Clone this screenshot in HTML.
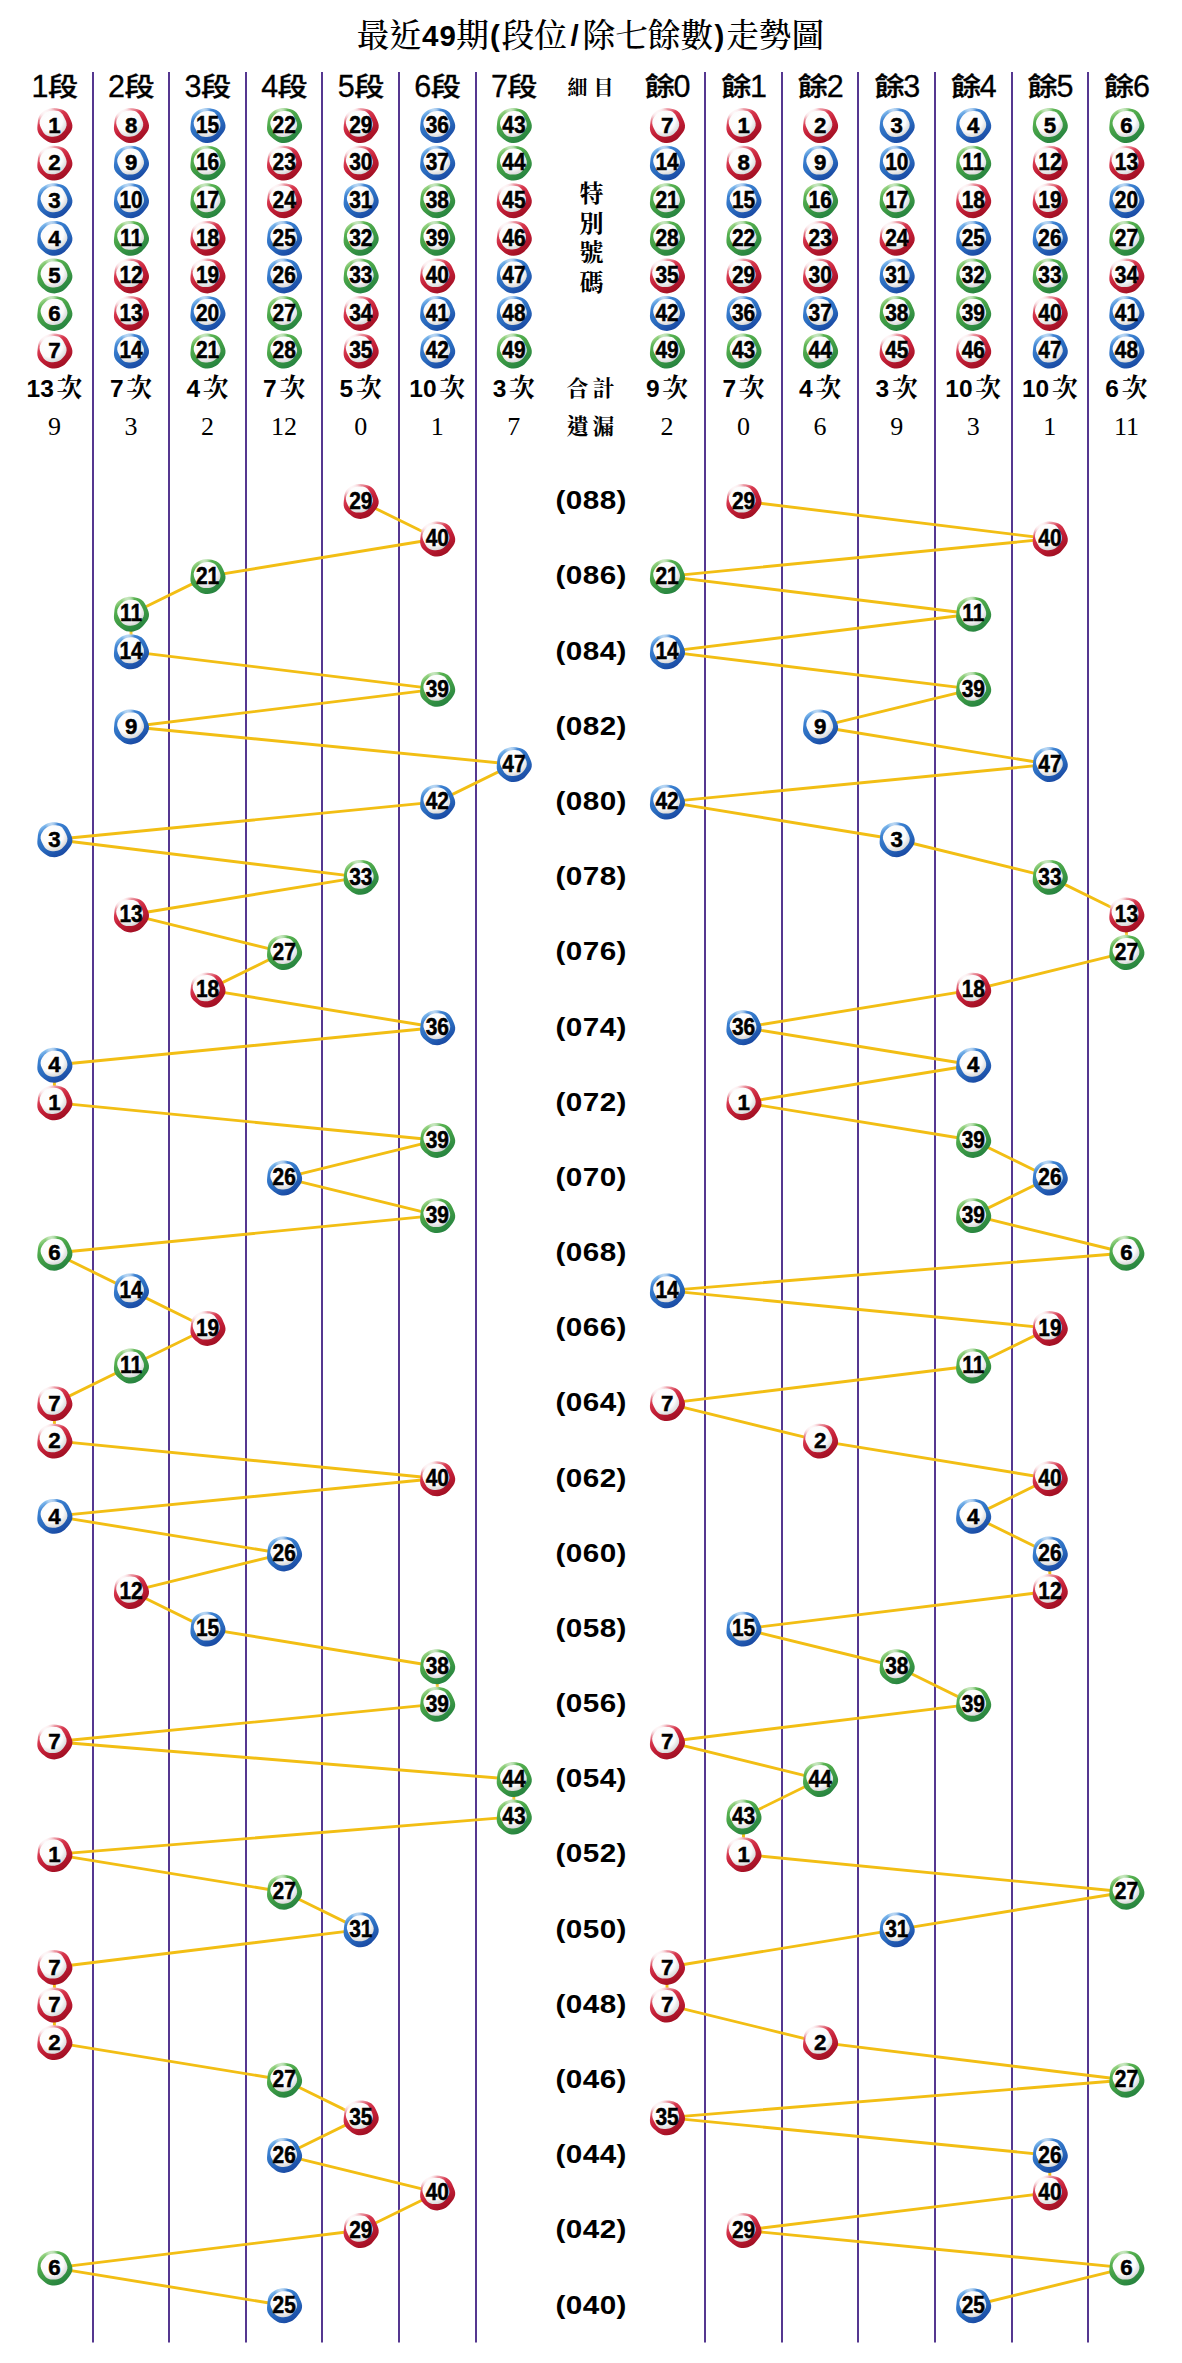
<!DOCTYPE html>
<html lang="zh-Hant"><head><meta charset="utf-8"><title>最近49期(段位/除七餘數)走勢圖</title>
<style>
html,body{margin:0;padding:0;background:#fff}
svg{display:block}
.sans{font-family:"Liberation Sans","Noto Sans CJK TC",sans-serif}
.serif{font-family:"Liberation Serif","Noto Serif CJK SC",serif;font-weight:500}
.kai{font-family:"Liberation Serif","Noto Serif CJK SC",serif;font-weight:700}
.bn{font-family:"Liberation Sans",sans-serif;font-weight:700;font-size:23px;text-anchor:middle;fill:#000;stroke:#000;stroke-width:0.5px}
.hd{font-family:"Liberation Sans","Noto Sans CJK TC",sans-serif;stroke:#000;stroke-width:0.3px;text-anchor:middle;fill:#000}
.per{font-family:"Liberation Sans",sans-serif;font-weight:700;font-size:26.5px;text-anchor:middle;fill:#000;letter-spacing:0.4px}
.cnt{font-family:"Liberation Sans",sans-serif;font-weight:700;font-size:24.5px;fill:#000}
.ci{font-family:"Liberation Serif","Noto Serif CJK SC",serif;font-weight:700;font-size:26px;fill:#000}
.miss{font-family:"Liberation Serif",serif;font-size:26px;text-anchor:middle;fill:#000}
.lab{font-family:"Liberation Serif","Noto Serif CJK SC",serif;font-weight:700;text-anchor:middle;fill:#000}
</style></head><body>
<svg width="1182" height="2363" viewBox="0 0 1182 2363">
<defs>
<linearGradient id="ringr" x1="0.18" y1="0.02" x2="0.72" y2="1"><stop offset="0.04" stop-color="#fbe3e6"/><stop offset="0.3" stop-color="#d83a50"/><stop offset="0.55" stop-color="#c41f37"/><stop offset="1" stop-color="#9c0d20"/></linearGradient>
<linearGradient id="ringb" x1="0.18" y1="0.02" x2="0.72" y2="1"><stop offset="0.04" stop-color="#8cc4f2"/><stop offset="0.22" stop-color="#3a7fd0"/><stop offset="0.55" stop-color="#2b6dc0"/><stop offset="1" stop-color="#1745a0"/></linearGradient>
<linearGradient id="ringg" x1="0.18" y1="0.02" x2="0.72" y2="1"><stop offset="0.04" stop-color="#a8dc90"/><stop offset="0.22" stop-color="#55b04f"/><stop offset="0.55" stop-color="#3f9c45"/><stop offset="1" stop-color="#23803f"/></linearGradient>
<radialGradient id="wh" cx="0.4" cy="0.35" r="0.75"><stop offset="0" stop-color="#fff"/><stop offset="0.6" stop-color="#fbfbfb"/><stop offset="1" stop-color="#c9c9c9"/></radialGradient>
<radialGradient id="hl" cx="0.5" cy="0.5" r="0.5"><stop offset="0" stop-color="#fff" stop-opacity="0.95"/><stop offset="0.45" stop-color="#fff" stop-opacity="0.7"/><stop offset="1" stop-color="#fff" stop-opacity="0"/></radialGradient>
<g id="ballr"><path d="M17.99,0.00 L17.92,2.36 L17.26,4.63 L16.16,6.69 L14.84,8.57 L13.45,10.32 L12.01,12.01 L10.44,13.60 L8.65,14.98 L6.66,16.07 L4.52,16.87 L2.29,17.41 L0.00,17.68 L-2.32,17.62 L-4.59,17.14 L-6.73,16.24 L-8.68,15.03 L-10.49,13.66 L-12.22,12.22 L-13.88,10.65 L-15.35,8.86 L-16.43,6.80 L-16.99,4.55 L-17.08,2.25 L-16.91,0.00 L-16.68,-2.20 L-16.45,-4.41 L-16.08,-6.66 L-15.38,-8.88 L-14.23,-10.92 L-12.66,-12.66 L-10.81,-14.09 L-8.80,-15.24 L-6.70,-16.17 L-4.51,-16.84 L-2.26,-17.19 L-0.00,-17.22 L2.24,-16.98 L4.44,-16.57 L6.63,-16.00 L8.77,-15.19 L10.76,-14.02 L12.46,-12.46 L13.81,-10.60 L14.88,-8.59 L15.82,-6.55 L16.72,-4.48 L17.52,-2.31Z" fill="url(#ringr)"/><circle cx="-8.5" cy="-11.5" r="10" fill="url(#hl)"/><path d="M12.16,-1.70 L12.15,0.07 L11.76,1.80 L11.04,3.41 L10.12,4.89 L9.07,6.26 L7.93,7.53 L6.67,8.69 L5.27,9.68 L3.73,10.44 L2.09,10.96 L0.41,11.25 L-1.30,11.39 L-3.02,11.39 L-4.76,11.22 L-6.47,10.79 L-8.08,10.04 L-9.48,8.96 L-10.63,7.63 L-11.56,6.17 L-12.36,4.68 L-13.11,3.19 L-13.82,1.65 L-14.41,0.03 L-14.76,-1.70 L-14.75,-3.47 L-14.36,-5.20 L-13.64,-6.81 L-12.72,-8.29 L-11.67,-9.66 L-10.53,-10.93 L-9.27,-12.09 L-7.87,-13.08 L-6.33,-13.84 L-4.69,-14.36 L-3.01,-14.65 L-1.30,-14.79 L0.42,-14.79 L2.16,-14.62 L3.87,-14.19 L5.48,-13.44 L6.88,-12.36 L8.03,-11.03 L8.96,-9.57 L9.76,-8.08 L10.51,-6.59 L11.22,-5.05 L11.81,-3.43Z" fill="url(#wh)"/></g>
<g id="ballb"><path d="M17.99,0.00 L17.92,2.36 L17.26,4.63 L16.16,6.69 L14.84,8.57 L13.45,10.32 L12.01,12.01 L10.44,13.60 L8.65,14.98 L6.66,16.07 L4.52,16.87 L2.29,17.41 L0.00,17.68 L-2.32,17.62 L-4.59,17.14 L-6.73,16.24 L-8.68,15.03 L-10.49,13.66 L-12.22,12.22 L-13.88,10.65 L-15.35,8.86 L-16.43,6.80 L-16.99,4.55 L-17.08,2.25 L-16.91,0.00 L-16.68,-2.20 L-16.45,-4.41 L-16.08,-6.66 L-15.38,-8.88 L-14.23,-10.92 L-12.66,-12.66 L-10.81,-14.09 L-8.80,-15.24 L-6.70,-16.17 L-4.51,-16.84 L-2.26,-17.19 L-0.00,-17.22 L2.24,-16.98 L4.44,-16.57 L6.63,-16.00 L8.77,-15.19 L10.76,-14.02 L12.46,-12.46 L13.81,-10.60 L14.88,-8.59 L15.82,-6.55 L16.72,-4.48 L17.52,-2.31Z" fill="url(#ringb)"/><circle cx="-3" cy="-14.5" r="6.5" fill="url(#hl)" opacity="0.6"/><path d="M12.96,-1.30 L12.95,0.46 L12.56,2.17 L11.85,3.77 L10.93,5.24 L9.89,6.60 L8.76,7.86 L7.51,9.01 L6.12,10.00 L4.59,10.75 L2.97,11.26 L1.29,11.55 L-0.40,11.69 L-2.11,11.69 L-3.83,11.52 L-5.54,11.10 L-7.13,10.35 L-8.52,9.28 L-9.66,7.96 L-10.58,6.51 L-11.37,5.03 L-12.11,3.55 L-12.82,2.03 L-13.41,0.41 L-13.76,-1.30 L-13.75,-3.06 L-13.36,-4.77 L-12.65,-6.37 L-11.73,-7.84 L-10.69,-9.20 L-9.56,-10.46 L-8.31,-11.61 L-6.92,-12.60 L-5.39,-13.35 L-3.77,-13.86 L-2.09,-14.15 L-0.40,-14.29 L1.31,-14.29 L3.03,-14.12 L4.74,-13.70 L6.33,-12.95 L7.72,-11.88 L8.86,-10.56 L9.78,-9.11 L10.57,-7.63 L11.31,-6.15 L12.02,-4.63 L12.61,-3.01Z" fill="url(#wh)"/></g>
<g id="ballg"><path d="M17.99,0.00 L17.92,2.36 L17.26,4.63 L16.16,6.69 L14.84,8.57 L13.45,10.32 L12.01,12.01 L10.44,13.60 L8.65,14.98 L6.66,16.07 L4.52,16.87 L2.29,17.41 L0.00,17.68 L-2.32,17.62 L-4.59,17.14 L-6.73,16.24 L-8.68,15.03 L-10.49,13.66 L-12.22,12.22 L-13.88,10.65 L-15.35,8.86 L-16.43,6.80 L-16.99,4.55 L-17.08,2.25 L-16.91,0.00 L-16.68,-2.20 L-16.45,-4.41 L-16.08,-6.66 L-15.38,-8.88 L-14.23,-10.92 L-12.66,-12.66 L-10.81,-14.09 L-8.80,-15.24 L-6.70,-16.17 L-4.51,-16.84 L-2.26,-17.19 L-0.00,-17.22 L2.24,-16.98 L4.44,-16.57 L6.63,-16.00 L8.77,-15.19 L10.76,-14.02 L12.46,-12.46 L13.81,-10.60 L14.88,-8.59 L15.82,-6.55 L16.72,-4.48 L17.52,-2.31Z" fill="url(#ringg)"/><circle cx="-3" cy="-14.5" r="6.5" fill="url(#hl)" opacity="0.6"/><path d="M12.96,-1.30 L12.95,0.46 L12.56,2.17 L11.85,3.77 L10.93,5.24 L9.89,6.60 L8.76,7.86 L7.51,9.01 L6.12,10.00 L4.59,10.75 L2.97,11.26 L1.29,11.55 L-0.40,11.69 L-2.11,11.69 L-3.83,11.52 L-5.54,11.10 L-7.13,10.35 L-8.52,9.28 L-9.66,7.96 L-10.58,6.51 L-11.37,5.03 L-12.11,3.55 L-12.82,2.03 L-13.41,0.41 L-13.76,-1.30 L-13.75,-3.06 L-13.36,-4.77 L-12.65,-6.37 L-11.73,-7.84 L-10.69,-9.20 L-9.56,-10.46 L-8.31,-11.61 L-6.92,-12.60 L-5.39,-13.35 L-3.77,-13.86 L-2.09,-14.15 L-0.40,-14.29 L1.31,-14.29 L3.03,-14.12 L4.74,-13.70 L6.33,-12.95 L7.72,-11.88 L8.86,-10.56 L9.78,-9.11 L10.57,-7.63 L11.31,-6.15 L12.02,-4.63 L12.61,-3.01Z" fill="url(#wh)"/></g>
</defs>
<rect width="1182" height="2363" fill="#fff"/>
<text fill="#000"><tspan x="356.5" y="47.2" class="serif" font-size="32.7">最近</tspan><tspan x="421.9" y="46" class="sans" font-weight="700" font-size="29.5" letter-spacing="1.3">49</tspan><tspan x="456.3" y="47.2" class="serif" font-size="32.7">期</tspan><tspan x="490.1" y="46" class="sans" font-weight="700" font-size="29.5" letter-spacing="1.3">(</tspan><tspan x="501.5" y="47.2" class="serif" font-size="32.7">段位</tspan><tspan x="570.4" y="46" class="sans" font-weight="700" font-size="29.5" letter-spacing="1.3">/</tspan><tspan x="582.5" y="47.2" class="serif" font-size="32.7">除七餘數</tspan><tspan x="714.6" y="46" class="sans" font-weight="700" font-size="29.5" letter-spacing="1.3">)</tspan><tspan x="726.2" y="47.2" class="serif" font-size="32.7">走勢圖</tspan></text>
<rect x="92" y="72" width="2" height="2270.5" fill="#553790"/>
<rect x="168" y="72" width="2" height="2270.5" fill="#553790"/>
<rect x="245" y="72" width="2" height="2270.5" fill="#553790"/>
<rect x="321" y="72" width="2" height="2270.5" fill="#553790"/>
<rect x="398" y="72" width="2" height="2270.5" fill="#553790"/>
<rect x="475" y="72" width="2" height="2270.5" fill="#553790"/>
<rect x="704" y="72" width="2" height="2270.5" fill="#553790"/>
<rect x="781" y="72" width="2" height="2270.5" fill="#553790"/>
<rect x="857" y="72" width="2" height="2270.5" fill="#553790"/>
<rect x="934" y="72" width="2" height="2270.5" fill="#553790"/>
<rect x="1011" y="72" width="2" height="2270.5" fill="#553790"/>
<rect x="1087" y="72" width="2" height="2270.5" fill="#553790"/>
<text class="hd" x="40.0" y="97.4" font-size="30.5">1</text><text class="hd" transform="translate(63.0,95.9) scale(1.17,1)" font-size="25.8" font-weight="500">段</text>
<text class="hd" x="116.6" y="97.4" font-size="30.5">2</text><text class="hd" transform="translate(139.6,95.9) scale(1.17,1)" font-size="25.8" font-weight="500">段</text>
<text class="hd" x="193.1" y="97.4" font-size="30.5">3</text><text class="hd" transform="translate(216.1,95.9) scale(1.17,1)" font-size="25.8" font-weight="500">段</text>
<text class="hd" x="269.7" y="97.4" font-size="30.5">4</text><text class="hd" transform="translate(292.7,95.9) scale(1.17,1)" font-size="25.8" font-weight="500">段</text>
<text class="hd" x="346.3" y="97.4" font-size="30.5">5</text><text class="hd" transform="translate(369.3,95.9) scale(1.17,1)" font-size="25.8" font-weight="500">段</text>
<text class="hd" x="422.8" y="97.4" font-size="30.5">6</text><text class="hd" transform="translate(445.8,95.9) scale(1.17,1)" font-size="25.8" font-weight="500">段</text>
<text class="hd" x="499.4" y="97.4" font-size="30.5">7</text><text class="hd" transform="translate(522.4,95.9) scale(1.17,1)" font-size="25.8" font-weight="500">段</text>
<text class="hd" x="682.1" y="97.4" font-size="30.5">0</text><text class="hd" transform="translate(659.8,95.9) scale(1.17,1)" font-size="25.8" font-weight="500">餘</text>
<text class="hd" x="758.6" y="97.4" font-size="30.5">1</text><text class="hd" transform="translate(736.3,95.9) scale(1.17,1)" font-size="25.8" font-weight="500">餘</text>
<text class="hd" x="835.2" y="97.4" font-size="30.5">2</text><text class="hd" transform="translate(812.9,95.9) scale(1.17,1)" font-size="25.8" font-weight="500">餘</text>
<text class="hd" x="911.8" y="97.4" font-size="30.5">3</text><text class="hd" transform="translate(889.5,95.9) scale(1.17,1)" font-size="25.8" font-weight="500">餘</text>
<text class="hd" x="988.3" y="97.4" font-size="30.5">4</text><text class="hd" transform="translate(966.0,95.9) scale(1.17,1)" font-size="25.8" font-weight="500">餘</text>
<text class="hd" x="1064.9" y="97.4" font-size="30.5">5</text><text class="hd" transform="translate(1042.6,95.9) scale(1.17,1)" font-size="25.8" font-weight="500">餘</text>
<text class="hd" x="1141.5" y="97.4" font-size="30.5">6</text><text class="hd" transform="translate(1119.2,95.9) scale(1.17,1)" font-size="25.8" font-weight="500">餘</text>
<text class="lab" x="593.4" y="94.7" font-size="20" letter-spacing="6">細目</text>
<text class="lab" x="591.4" y="202.3" font-size="24">特</text>
<text class="lab" x="591.4" y="231.8" font-size="24">別</text>
<text class="lab" x="591.4" y="261.3" font-size="24">號</text>
<text class="lab" x="591.4" y="290.8" font-size="24">碼</text>
<text class="lab" x="592.4" y="396.4" font-size="22" letter-spacing="4">合計</text>
<text class="lab" x="592.4" y="434.0" font-size="22" letter-spacing="4">遺漏</text>
<use href="#ballr" x="54.4" y="125.3"/><text class="bn" transform="translate(54.5,132.7) scale(0.97,1)">1</text>
<use href="#ballr" x="54.4" y="162.9"/><text class="bn" transform="translate(54.5,170.3) scale(0.97,1)">2</text>
<use href="#ballb" x="54.4" y="200.5"/><text class="bn" transform="translate(54.5,207.9) scale(0.97,1)">3</text>
<use href="#ballb" x="54.4" y="238.1"/><text class="bn" transform="translate(54.5,245.5) scale(0.97,1)">4</text>
<use href="#ballg" x="54.4" y="275.7"/><text class="bn" transform="translate(54.5,283.1) scale(0.97,1)">5</text>
<use href="#ballg" x="54.4" y="313.2"/><text class="bn" transform="translate(54.5,320.6) scale(0.97,1)">6</text>
<use href="#ballr" x="54.4" y="350.8"/><text class="bn" transform="translate(54.5,358.2) scale(0.97,1)">7</text>
<use href="#ballr" x="131.0" y="125.3"/><text class="bn" transform="translate(131.1,132.7) scale(0.97,1)">8</text>
<use href="#ballb" x="131.0" y="162.9"/><text class="bn" transform="translate(131.1,170.3) scale(0.97,1)">9</text>
<use href="#ballb" x="131.0" y="200.5"/><text class="bn" transform="translate(131.1,207.9) scale(0.91,1)">10</text>
<use href="#ballg" x="131.0" y="238.1"/><text class="bn" transform="translate(131.1,245.5) scale(0.91,1)">11</text>
<use href="#ballr" x="131.0" y="275.7"/><text class="bn" transform="translate(131.1,283.1) scale(0.91,1)">12</text>
<use href="#ballr" x="131.0" y="313.2"/><text class="bn" transform="translate(131.1,320.6) scale(0.91,1)">13</text>
<use href="#ballb" x="131.0" y="350.8"/><text class="bn" transform="translate(131.1,358.2) scale(0.91,1)">14</text>
<use href="#ballb" x="207.5" y="125.3"/><text class="bn" transform="translate(207.6,132.7) scale(0.91,1)">15</text>
<use href="#ballg" x="207.5" y="162.9"/><text class="bn" transform="translate(207.6,170.3) scale(0.91,1)">16</text>
<use href="#ballg" x="207.5" y="200.5"/><text class="bn" transform="translate(207.6,207.9) scale(0.91,1)">17</text>
<use href="#ballr" x="207.5" y="238.1"/><text class="bn" transform="translate(207.6,245.5) scale(0.91,1)">18</text>
<use href="#ballr" x="207.5" y="275.7"/><text class="bn" transform="translate(207.6,283.1) scale(0.91,1)">19</text>
<use href="#ballb" x="207.5" y="313.2"/><text class="bn" transform="translate(207.6,320.6) scale(0.91,1)">20</text>
<use href="#ballg" x="207.5" y="350.8"/><text class="bn" transform="translate(207.6,358.2) scale(0.91,1)">21</text>
<use href="#ballg" x="284.1" y="125.3"/><text class="bn" transform="translate(284.2,132.7) scale(0.91,1)">22</text>
<use href="#ballr" x="284.1" y="162.9"/><text class="bn" transform="translate(284.2,170.3) scale(0.91,1)">23</text>
<use href="#ballr" x="284.1" y="200.5"/><text class="bn" transform="translate(284.2,207.9) scale(0.91,1)">24</text>
<use href="#ballb" x="284.1" y="238.1"/><text class="bn" transform="translate(284.2,245.5) scale(0.91,1)">25</text>
<use href="#ballb" x="284.1" y="275.7"/><text class="bn" transform="translate(284.2,283.1) scale(0.91,1)">26</text>
<use href="#ballg" x="284.1" y="313.2"/><text class="bn" transform="translate(284.2,320.6) scale(0.91,1)">27</text>
<use href="#ballg" x="284.1" y="350.8"/><text class="bn" transform="translate(284.2,358.2) scale(0.91,1)">28</text>
<use href="#ballr" x="360.7" y="125.3"/><text class="bn" transform="translate(360.8,132.7) scale(0.91,1)">29</text>
<use href="#ballr" x="360.7" y="162.9"/><text class="bn" transform="translate(360.8,170.3) scale(0.91,1)">30</text>
<use href="#ballb" x="360.7" y="200.5"/><text class="bn" transform="translate(360.8,207.9) scale(0.91,1)">31</text>
<use href="#ballg" x="360.7" y="238.1"/><text class="bn" transform="translate(360.8,245.5) scale(0.91,1)">32</text>
<use href="#ballg" x="360.7" y="275.7"/><text class="bn" transform="translate(360.8,283.1) scale(0.91,1)">33</text>
<use href="#ballr" x="360.7" y="313.2"/><text class="bn" transform="translate(360.8,320.6) scale(0.91,1)">34</text>
<use href="#ballr" x="360.7" y="350.8"/><text class="bn" transform="translate(360.8,358.2) scale(0.91,1)">35</text>
<use href="#ballb" x="437.2" y="125.3"/><text class="bn" transform="translate(437.3,132.7) scale(0.91,1)">36</text>
<use href="#ballb" x="437.2" y="162.9"/><text class="bn" transform="translate(437.3,170.3) scale(0.91,1)">37</text>
<use href="#ballg" x="437.2" y="200.5"/><text class="bn" transform="translate(437.3,207.9) scale(0.91,1)">38</text>
<use href="#ballg" x="437.2" y="238.1"/><text class="bn" transform="translate(437.3,245.5) scale(0.91,1)">39</text>
<use href="#ballr" x="437.2" y="275.7"/><text class="bn" transform="translate(437.3,283.1) scale(0.91,1)">40</text>
<use href="#ballb" x="437.2" y="313.2"/><text class="bn" transform="translate(437.3,320.6) scale(0.91,1)">41</text>
<use href="#ballb" x="437.2" y="350.8"/><text class="bn" transform="translate(437.3,358.2) scale(0.91,1)">42</text>
<use href="#ballg" x="513.8" y="125.3"/><text class="bn" transform="translate(513.9,132.7) scale(0.91,1)">43</text>
<use href="#ballg" x="513.8" y="162.9"/><text class="bn" transform="translate(513.9,170.3) scale(0.91,1)">44</text>
<use href="#ballr" x="513.8" y="200.5"/><text class="bn" transform="translate(513.9,207.9) scale(0.91,1)">45</text>
<use href="#ballr" x="513.8" y="238.1"/><text class="bn" transform="translate(513.9,245.5) scale(0.91,1)">46</text>
<use href="#ballb" x="513.8" y="275.7"/><text class="bn" transform="translate(513.9,283.1) scale(0.91,1)">47</text>
<use href="#ballb" x="513.8" y="313.2"/><text class="bn" transform="translate(513.9,320.6) scale(0.91,1)">48</text>
<use href="#ballg" x="513.8" y="350.8"/><text class="bn" transform="translate(513.9,358.2) scale(0.91,1)">49</text>
<use href="#ballr" x="667.0" y="125.3"/><text class="bn" transform="translate(667.1,132.7) scale(0.97,1)">7</text>
<use href="#ballb" x="667.0" y="162.9"/><text class="bn" transform="translate(667.1,170.3) scale(0.91,1)">14</text>
<use href="#ballg" x="667.0" y="200.5"/><text class="bn" transform="translate(667.1,207.9) scale(0.91,1)">21</text>
<use href="#ballg" x="667.0" y="238.1"/><text class="bn" transform="translate(667.1,245.5) scale(0.91,1)">28</text>
<use href="#ballr" x="667.0" y="275.7"/><text class="bn" transform="translate(667.1,283.1) scale(0.91,1)">35</text>
<use href="#ballb" x="667.0" y="313.2"/><text class="bn" transform="translate(667.1,320.6) scale(0.91,1)">42</text>
<use href="#ballg" x="667.0" y="350.8"/><text class="bn" transform="translate(667.1,358.2) scale(0.91,1)">49</text>
<use href="#ballr" x="743.5" y="125.3"/><text class="bn" transform="translate(743.6,132.7) scale(0.97,1)">1</text>
<use href="#ballr" x="743.5" y="162.9"/><text class="bn" transform="translate(743.6,170.3) scale(0.97,1)">8</text>
<use href="#ballb" x="743.5" y="200.5"/><text class="bn" transform="translate(743.6,207.9) scale(0.91,1)">15</text>
<use href="#ballg" x="743.5" y="238.1"/><text class="bn" transform="translate(743.6,245.5) scale(0.91,1)">22</text>
<use href="#ballr" x="743.5" y="275.7"/><text class="bn" transform="translate(743.6,283.1) scale(0.91,1)">29</text>
<use href="#ballb" x="743.5" y="313.2"/><text class="bn" transform="translate(743.6,320.6) scale(0.91,1)">36</text>
<use href="#ballg" x="743.5" y="350.8"/><text class="bn" transform="translate(743.6,358.2) scale(0.91,1)">43</text>
<use href="#ballr" x="820.1" y="125.3"/><text class="bn" transform="translate(820.2,132.7) scale(0.97,1)">2</text>
<use href="#ballb" x="820.1" y="162.9"/><text class="bn" transform="translate(820.2,170.3) scale(0.97,1)">9</text>
<use href="#ballg" x="820.1" y="200.5"/><text class="bn" transform="translate(820.2,207.9) scale(0.91,1)">16</text>
<use href="#ballr" x="820.1" y="238.1"/><text class="bn" transform="translate(820.2,245.5) scale(0.91,1)">23</text>
<use href="#ballr" x="820.1" y="275.7"/><text class="bn" transform="translate(820.2,283.1) scale(0.91,1)">30</text>
<use href="#ballb" x="820.1" y="313.2"/><text class="bn" transform="translate(820.2,320.6) scale(0.91,1)">37</text>
<use href="#ballg" x="820.1" y="350.8"/><text class="bn" transform="translate(820.2,358.2) scale(0.91,1)">44</text>
<use href="#ballb" x="896.7" y="125.3"/><text class="bn" transform="translate(896.8,132.7) scale(0.97,1)">3</text>
<use href="#ballb" x="896.7" y="162.9"/><text class="bn" transform="translate(896.8,170.3) scale(0.91,1)">10</text>
<use href="#ballg" x="896.7" y="200.5"/><text class="bn" transform="translate(896.8,207.9) scale(0.91,1)">17</text>
<use href="#ballr" x="896.7" y="238.1"/><text class="bn" transform="translate(896.8,245.5) scale(0.91,1)">24</text>
<use href="#ballb" x="896.7" y="275.7"/><text class="bn" transform="translate(896.8,283.1) scale(0.91,1)">31</text>
<use href="#ballg" x="896.7" y="313.2"/><text class="bn" transform="translate(896.8,320.6) scale(0.91,1)">38</text>
<use href="#ballr" x="896.7" y="350.8"/><text class="bn" transform="translate(896.8,358.2) scale(0.91,1)">45</text>
<use href="#ballb" x="973.2" y="125.3"/><text class="bn" transform="translate(973.3,132.7) scale(0.97,1)">4</text>
<use href="#ballg" x="973.2" y="162.9"/><text class="bn" transform="translate(973.3,170.3) scale(0.91,1)">11</text>
<use href="#ballr" x="973.2" y="200.5"/><text class="bn" transform="translate(973.3,207.9) scale(0.91,1)">18</text>
<use href="#ballb" x="973.2" y="238.1"/><text class="bn" transform="translate(973.3,245.5) scale(0.91,1)">25</text>
<use href="#ballg" x="973.2" y="275.7"/><text class="bn" transform="translate(973.3,283.1) scale(0.91,1)">32</text>
<use href="#ballg" x="973.2" y="313.2"/><text class="bn" transform="translate(973.3,320.6) scale(0.91,1)">39</text>
<use href="#ballr" x="973.2" y="350.8"/><text class="bn" transform="translate(973.3,358.2) scale(0.91,1)">46</text>
<use href="#ballg" x="1049.8" y="125.3"/><text class="bn" transform="translate(1049.9,132.7) scale(0.97,1)">5</text>
<use href="#ballr" x="1049.8" y="162.9"/><text class="bn" transform="translate(1049.9,170.3) scale(0.91,1)">12</text>
<use href="#ballr" x="1049.8" y="200.5"/><text class="bn" transform="translate(1049.9,207.9) scale(0.91,1)">19</text>
<use href="#ballb" x="1049.8" y="238.1"/><text class="bn" transform="translate(1049.9,245.5) scale(0.91,1)">26</text>
<use href="#ballg" x="1049.8" y="275.7"/><text class="bn" transform="translate(1049.9,283.1) scale(0.91,1)">33</text>
<use href="#ballr" x="1049.8" y="313.2"/><text class="bn" transform="translate(1049.9,320.6) scale(0.91,1)">40</text>
<use href="#ballb" x="1049.8" y="350.8"/><text class="bn" transform="translate(1049.9,358.2) scale(0.91,1)">47</text>
<use href="#ballg" x="1126.4" y="125.3"/><text class="bn" transform="translate(1126.5,132.7) scale(0.97,1)">6</text>
<use href="#ballr" x="1126.4" y="162.9"/><text class="bn" transform="translate(1126.5,170.3) scale(0.91,1)">13</text>
<use href="#ballb" x="1126.4" y="200.5"/><text class="bn" transform="translate(1126.5,207.9) scale(0.91,1)">20</text>
<use href="#ballg" x="1126.4" y="238.1"/><text class="bn" transform="translate(1126.5,245.5) scale(0.91,1)">27</text>
<use href="#ballr" x="1126.4" y="275.7"/><text class="bn" transform="translate(1126.5,283.1) scale(0.91,1)">34</text>
<use href="#ballb" x="1126.4" y="313.2"/><text class="bn" transform="translate(1126.5,320.6) scale(0.91,1)">41</text>
<use href="#ballb" x="1126.4" y="350.8"/><text class="bn" transform="translate(1126.5,358.2) scale(0.91,1)">48</text>
<text x="54.4" y="397.4" text-anchor="middle"><tspan class="cnt">13</tspan><tspan class="ci" dx="2.5">次</tspan></text>
<text class="miss" x="54.4" y="435.0">9</text>
<text x="131.0" y="397.4" text-anchor="middle"><tspan class="cnt">7</tspan><tspan class="ci" dx="2.5">次</tspan></text>
<text class="miss" x="131.0" y="435.0">3</text>
<text x="207.5" y="397.4" text-anchor="middle"><tspan class="cnt">4</tspan><tspan class="ci" dx="2.5">次</tspan></text>
<text class="miss" x="207.5" y="435.0">2</text>
<text x="284.1" y="397.4" text-anchor="middle"><tspan class="cnt">7</tspan><tspan class="ci" dx="2.5">次</tspan></text>
<text class="miss" x="284.1" y="435.0">12</text>
<text x="360.7" y="397.4" text-anchor="middle"><tspan class="cnt">5</tspan><tspan class="ci" dx="2.5">次</tspan></text>
<text class="miss" x="360.7" y="435.0">0</text>
<text x="437.2" y="397.4" text-anchor="middle"><tspan class="cnt">10</tspan><tspan class="ci" dx="2.5">次</tspan></text>
<text class="miss" x="437.2" y="435.0">1</text>
<text x="513.8" y="397.4" text-anchor="middle"><tspan class="cnt">3</tspan><tspan class="ci" dx="2.5">次</tspan></text>
<text class="miss" x="513.8" y="435.0">7</text>
<text x="667.0" y="397.4" text-anchor="middle"><tspan class="cnt">9</tspan><tspan class="ci" dx="2.5">次</tspan></text>
<text class="miss" x="667.0" y="435.0">2</text>
<text x="743.5" y="397.4" text-anchor="middle"><tspan class="cnt">7</tspan><tspan class="ci" dx="2.5">次</tspan></text>
<text class="miss" x="743.5" y="435.0">0</text>
<text x="820.1" y="397.4" text-anchor="middle"><tspan class="cnt">4</tspan><tspan class="ci" dx="2.5">次</tspan></text>
<text class="miss" x="820.1" y="435.0">6</text>
<text x="896.7" y="397.4" text-anchor="middle"><tspan class="cnt">3</tspan><tspan class="ci" dx="2.5">次</tspan></text>
<text class="miss" x="896.7" y="435.0">9</text>
<text x="973.2" y="397.4" text-anchor="middle"><tspan class="cnt">10</tspan><tspan class="ci" dx="2.5">次</tspan></text>
<text class="miss" x="973.2" y="435.0">3</text>
<text x="1049.8" y="397.4" text-anchor="middle"><tspan class="cnt">10</tspan><tspan class="ci" dx="2.5">次</tspan></text>
<text class="miss" x="1049.8" y="435.0">1</text>
<text x="1126.4" y="397.4" text-anchor="middle"><tspan class="cnt">6</tspan><tspan class="ci" dx="2.5">次</tspan></text>
<text class="miss" x="1126.4" y="435.0">11</text>
<polyline points="360.7,501.2 437.2,538.8 207.5,576.4 131.0,614.0 131.0,651.6 437.2,689.1 131.0,726.7 513.8,764.3 437.2,801.9 54.4,839.5 360.7,877.1 131.0,914.7 284.1,952.3 207.5,989.9 437.2,1027.5 54.4,1065.0 54.4,1102.6 437.2,1140.2 284.1,1177.8 437.2,1215.4 54.4,1253.0 131.0,1290.6 207.5,1328.2 131.0,1365.8 54.4,1403.4 54.4,1440.9 437.2,1478.5 54.4,1516.1 284.1,1553.7 131.0,1591.3 207.5,1628.9 437.2,1666.5 437.2,1704.1 54.4,1741.7 513.8,1779.3 513.8,1816.8 54.4,1854.4 284.1,1892.0 360.7,1929.6 54.4,1967.2 54.4,2004.8 54.4,2042.4 284.1,2080.0 360.7,2117.6 284.1,2155.2 437.2,2192.7 360.7,2230.3 54.4,2267.9 284.1,2305.5" fill="none" stroke="#f2be14" stroke-width="2.9" stroke-linejoin="round"/>
<polyline points="743.5,501.2 1049.8,538.8 667.0,576.4 973.2,614.0 667.0,651.6 973.2,689.1 820.1,726.7 1049.8,764.3 667.0,801.9 896.7,839.5 1049.8,877.1 1126.4,914.7 1126.4,952.3 973.2,989.9 743.5,1027.5 973.2,1065.0 743.5,1102.6 973.2,1140.2 1049.8,1177.8 973.2,1215.4 1126.4,1253.0 667.0,1290.6 1049.8,1328.2 973.2,1365.8 667.0,1403.4 820.1,1440.9 1049.8,1478.5 973.2,1516.1 1049.8,1553.7 1049.8,1591.3 743.5,1628.9 896.7,1666.5 973.2,1704.1 667.0,1741.7 820.1,1779.3 743.5,1816.8 743.5,1854.4 1126.4,1892.0 896.7,1929.6 667.0,1967.2 667.0,2004.8 820.1,2042.4 1126.4,2080.0 667.0,2117.6 1049.8,2155.2 1049.8,2192.7 743.5,2230.3 1126.4,2267.9 973.2,2305.5" fill="none" stroke="#f2be14" stroke-width="2.9" stroke-linejoin="round"/>
<text class="per" transform="translate(591.2,509.2) scale(1.12,1)">(088)</text>
<use href="#ballr" x="360.7" y="501.2"/><text class="bn" transform="translate(360.8,508.6) scale(0.91,1)">29</text>
<use href="#ballr" x="743.5" y="501.2"/><text class="bn" transform="translate(743.6,508.6) scale(0.91,1)">29</text>
<use href="#ballr" x="437.2" y="538.8"/><text class="bn" transform="translate(437.3,546.2) scale(0.91,1)">40</text>
<use href="#ballr" x="1049.8" y="538.8"/><text class="bn" transform="translate(1049.9,546.2) scale(0.91,1)">40</text>
<text class="per" transform="translate(591.2,584.4) scale(1.12,1)">(086)</text>
<use href="#ballg" x="207.5" y="576.4"/><text class="bn" transform="translate(207.6,583.8) scale(0.91,1)">21</text>
<use href="#ballg" x="667.0" y="576.4"/><text class="bn" transform="translate(667.1,583.8) scale(0.91,1)">21</text>
<use href="#ballg" x="131.0" y="614.0"/><text class="bn" transform="translate(131.1,621.4) scale(0.91,1)">11</text>
<use href="#ballg" x="973.2" y="614.0"/><text class="bn" transform="translate(973.3,621.4) scale(0.91,1)">11</text>
<text class="per" transform="translate(591.2,659.6) scale(1.12,1)">(084)</text>
<use href="#ballb" x="131.0" y="651.6"/><text class="bn" transform="translate(131.1,659.0) scale(0.91,1)">14</text>
<use href="#ballb" x="667.0" y="651.6"/><text class="bn" transform="translate(667.1,659.0) scale(0.91,1)">14</text>
<use href="#ballg" x="437.2" y="689.1"/><text class="bn" transform="translate(437.3,696.5) scale(0.91,1)">39</text>
<use href="#ballg" x="973.2" y="689.1"/><text class="bn" transform="translate(973.3,696.5) scale(0.91,1)">39</text>
<text class="per" transform="translate(591.2,734.7) scale(1.12,1)">(082)</text>
<use href="#ballb" x="131.0" y="726.7"/><text class="bn" transform="translate(131.1,734.1) scale(0.97,1)">9</text>
<use href="#ballb" x="820.1" y="726.7"/><text class="bn" transform="translate(820.2,734.1) scale(0.97,1)">9</text>
<use href="#ballb" x="513.8" y="764.3"/><text class="bn" transform="translate(513.9,771.7) scale(0.91,1)">47</text>
<use href="#ballb" x="1049.8" y="764.3"/><text class="bn" transform="translate(1049.9,771.7) scale(0.91,1)">47</text>
<text class="per" transform="translate(591.2,809.9) scale(1.12,1)">(080)</text>
<use href="#ballb" x="437.2" y="801.9"/><text class="bn" transform="translate(437.3,809.3) scale(0.91,1)">42</text>
<use href="#ballb" x="667.0" y="801.9"/><text class="bn" transform="translate(667.1,809.3) scale(0.91,1)">42</text>
<use href="#ballb" x="54.4" y="839.5"/><text class="bn" transform="translate(54.5,846.9) scale(0.97,1)">3</text>
<use href="#ballb" x="896.7" y="839.5"/><text class="bn" transform="translate(896.8,846.9) scale(0.97,1)">3</text>
<text class="per" transform="translate(591.2,885.1) scale(1.12,1)">(078)</text>
<use href="#ballg" x="360.7" y="877.1"/><text class="bn" transform="translate(360.8,884.5) scale(0.91,1)">33</text>
<use href="#ballg" x="1049.8" y="877.1"/><text class="bn" transform="translate(1049.9,884.5) scale(0.91,1)">33</text>
<use href="#ballr" x="131.0" y="914.7"/><text class="bn" transform="translate(131.1,922.1) scale(0.91,1)">13</text>
<use href="#ballr" x="1126.4" y="914.7"/><text class="bn" transform="translate(1126.5,922.1) scale(0.91,1)">13</text>
<text class="per" transform="translate(591.2,960.3) scale(1.12,1)">(076)</text>
<use href="#ballg" x="284.1" y="952.3"/><text class="bn" transform="translate(284.2,959.7) scale(0.91,1)">27</text>
<use href="#ballg" x="1126.4" y="952.3"/><text class="bn" transform="translate(1126.5,959.7) scale(0.91,1)">27</text>
<use href="#ballr" x="207.5" y="989.9"/><text class="bn" transform="translate(207.6,997.3) scale(0.91,1)">18</text>
<use href="#ballr" x="973.2" y="989.9"/><text class="bn" transform="translate(973.3,997.3) scale(0.91,1)">18</text>
<text class="per" transform="translate(591.2,1035.5) scale(1.12,1)">(074)</text>
<use href="#ballb" x="437.2" y="1027.5"/><text class="bn" transform="translate(437.3,1034.9) scale(0.91,1)">36</text>
<use href="#ballb" x="743.5" y="1027.5"/><text class="bn" transform="translate(743.6,1034.9) scale(0.91,1)">36</text>
<use href="#ballb" x="54.4" y="1065.0"/><text class="bn" transform="translate(54.5,1072.4) scale(0.97,1)">4</text>
<use href="#ballb" x="973.2" y="1065.0"/><text class="bn" transform="translate(973.3,1072.4) scale(0.97,1)">4</text>
<text class="per" transform="translate(591.2,1110.6) scale(1.12,1)">(072)</text>
<use href="#ballr" x="54.4" y="1102.6"/><text class="bn" transform="translate(54.5,1110.0) scale(0.97,1)">1</text>
<use href="#ballr" x="743.5" y="1102.6"/><text class="bn" transform="translate(743.6,1110.0) scale(0.97,1)">1</text>
<use href="#ballg" x="437.2" y="1140.2"/><text class="bn" transform="translate(437.3,1147.6) scale(0.91,1)">39</text>
<use href="#ballg" x="973.2" y="1140.2"/><text class="bn" transform="translate(973.3,1147.6) scale(0.91,1)">39</text>
<text class="per" transform="translate(591.2,1185.8) scale(1.12,1)">(070)</text>
<use href="#ballb" x="284.1" y="1177.8"/><text class="bn" transform="translate(284.2,1185.2) scale(0.91,1)">26</text>
<use href="#ballb" x="1049.8" y="1177.8"/><text class="bn" transform="translate(1049.9,1185.2) scale(0.91,1)">26</text>
<use href="#ballg" x="437.2" y="1215.4"/><text class="bn" transform="translate(437.3,1222.8) scale(0.91,1)">39</text>
<use href="#ballg" x="973.2" y="1215.4"/><text class="bn" transform="translate(973.3,1222.8) scale(0.91,1)">39</text>
<text class="per" transform="translate(591.2,1261.0) scale(1.12,1)">(068)</text>
<use href="#ballg" x="54.4" y="1253.0"/><text class="bn" transform="translate(54.5,1260.4) scale(0.97,1)">6</text>
<use href="#ballg" x="1126.4" y="1253.0"/><text class="bn" transform="translate(1126.5,1260.4) scale(0.97,1)">6</text>
<use href="#ballb" x="131.0" y="1290.6"/><text class="bn" transform="translate(131.1,1298.0) scale(0.91,1)">14</text>
<use href="#ballb" x="667.0" y="1290.6"/><text class="bn" transform="translate(667.1,1298.0) scale(0.91,1)">14</text>
<text class="per" transform="translate(591.2,1336.2) scale(1.12,1)">(066)</text>
<use href="#ballr" x="207.5" y="1328.2"/><text class="bn" transform="translate(207.6,1335.6) scale(0.91,1)">19</text>
<use href="#ballr" x="1049.8" y="1328.2"/><text class="bn" transform="translate(1049.9,1335.6) scale(0.91,1)">19</text>
<use href="#ballg" x="131.0" y="1365.8"/><text class="bn" transform="translate(131.1,1373.2) scale(0.91,1)">11</text>
<use href="#ballg" x="973.2" y="1365.8"/><text class="bn" transform="translate(973.3,1373.2) scale(0.91,1)">11</text>
<text class="per" transform="translate(591.2,1411.4) scale(1.12,1)">(064)</text>
<use href="#ballr" x="54.4" y="1403.4"/><text class="bn" transform="translate(54.5,1410.8) scale(0.97,1)">7</text>
<use href="#ballr" x="667.0" y="1403.4"/><text class="bn" transform="translate(667.1,1410.8) scale(0.97,1)">7</text>
<use href="#ballr" x="54.4" y="1440.9"/><text class="bn" transform="translate(54.5,1448.3) scale(0.97,1)">2</text>
<use href="#ballr" x="820.1" y="1440.9"/><text class="bn" transform="translate(820.2,1448.3) scale(0.97,1)">2</text>
<text class="per" transform="translate(591.2,1486.5) scale(1.12,1)">(062)</text>
<use href="#ballr" x="437.2" y="1478.5"/><text class="bn" transform="translate(437.3,1485.9) scale(0.91,1)">40</text>
<use href="#ballr" x="1049.8" y="1478.5"/><text class="bn" transform="translate(1049.9,1485.9) scale(0.91,1)">40</text>
<use href="#ballb" x="54.4" y="1516.1"/><text class="bn" transform="translate(54.5,1523.5) scale(0.97,1)">4</text>
<use href="#ballb" x="973.2" y="1516.1"/><text class="bn" transform="translate(973.3,1523.5) scale(0.97,1)">4</text>
<text class="per" transform="translate(591.2,1561.7) scale(1.12,1)">(060)</text>
<use href="#ballb" x="284.1" y="1553.7"/><text class="bn" transform="translate(284.2,1561.1) scale(0.91,1)">26</text>
<use href="#ballb" x="1049.8" y="1553.7"/><text class="bn" transform="translate(1049.9,1561.1) scale(0.91,1)">26</text>
<use href="#ballr" x="131.0" y="1591.3"/><text class="bn" transform="translate(131.1,1598.7) scale(0.91,1)">12</text>
<use href="#ballr" x="1049.8" y="1591.3"/><text class="bn" transform="translate(1049.9,1598.7) scale(0.91,1)">12</text>
<text class="per" transform="translate(591.2,1636.9) scale(1.12,1)">(058)</text>
<use href="#ballb" x="207.5" y="1628.9"/><text class="bn" transform="translate(207.6,1636.3) scale(0.91,1)">15</text>
<use href="#ballb" x="743.5" y="1628.9"/><text class="bn" transform="translate(743.6,1636.3) scale(0.91,1)">15</text>
<use href="#ballg" x="437.2" y="1666.5"/><text class="bn" transform="translate(437.3,1673.9) scale(0.91,1)">38</text>
<use href="#ballg" x="896.7" y="1666.5"/><text class="bn" transform="translate(896.8,1673.9) scale(0.91,1)">38</text>
<text class="per" transform="translate(591.2,1712.1) scale(1.12,1)">(056)</text>
<use href="#ballg" x="437.2" y="1704.1"/><text class="bn" transform="translate(437.3,1711.5) scale(0.91,1)">39</text>
<use href="#ballg" x="973.2" y="1704.1"/><text class="bn" transform="translate(973.3,1711.5) scale(0.91,1)">39</text>
<use href="#ballr" x="54.4" y="1741.7"/><text class="bn" transform="translate(54.5,1749.1) scale(0.97,1)">7</text>
<use href="#ballr" x="667.0" y="1741.7"/><text class="bn" transform="translate(667.1,1749.1) scale(0.97,1)">7</text>
<text class="per" transform="translate(591.2,1787.3) scale(1.12,1)">(054)</text>
<use href="#ballg" x="513.8" y="1779.3"/><text class="bn" transform="translate(513.9,1786.7) scale(0.91,1)">44</text>
<use href="#ballg" x="820.1" y="1779.3"/><text class="bn" transform="translate(820.2,1786.7) scale(0.91,1)">44</text>
<use href="#ballg" x="513.8" y="1816.8"/><text class="bn" transform="translate(513.9,1824.2) scale(0.91,1)">43</text>
<use href="#ballg" x="743.5" y="1816.8"/><text class="bn" transform="translate(743.6,1824.2) scale(0.91,1)">43</text>
<text class="per" transform="translate(591.2,1862.4) scale(1.12,1)">(052)</text>
<use href="#ballr" x="54.4" y="1854.4"/><text class="bn" transform="translate(54.5,1861.8) scale(0.97,1)">1</text>
<use href="#ballr" x="743.5" y="1854.4"/><text class="bn" transform="translate(743.6,1861.8) scale(0.97,1)">1</text>
<use href="#ballg" x="284.1" y="1892.0"/><text class="bn" transform="translate(284.2,1899.4) scale(0.91,1)">27</text>
<use href="#ballg" x="1126.4" y="1892.0"/><text class="bn" transform="translate(1126.5,1899.4) scale(0.91,1)">27</text>
<text class="per" transform="translate(591.2,1937.6) scale(1.12,1)">(050)</text>
<use href="#ballb" x="360.7" y="1929.6"/><text class="bn" transform="translate(360.8,1937.0) scale(0.91,1)">31</text>
<use href="#ballb" x="896.7" y="1929.6"/><text class="bn" transform="translate(896.8,1937.0) scale(0.91,1)">31</text>
<use href="#ballr" x="54.4" y="1967.2"/><text class="bn" transform="translate(54.5,1974.6) scale(0.97,1)">7</text>
<use href="#ballr" x="667.0" y="1967.2"/><text class="bn" transform="translate(667.1,1974.6) scale(0.97,1)">7</text>
<text class="per" transform="translate(591.2,2012.8) scale(1.12,1)">(048)</text>
<use href="#ballr" x="54.4" y="2004.8"/><text class="bn" transform="translate(54.5,2012.2) scale(0.97,1)">7</text>
<use href="#ballr" x="667.0" y="2004.8"/><text class="bn" transform="translate(667.1,2012.2) scale(0.97,1)">7</text>
<use href="#ballr" x="54.4" y="2042.4"/><text class="bn" transform="translate(54.5,2049.8) scale(0.97,1)">2</text>
<use href="#ballr" x="820.1" y="2042.4"/><text class="bn" transform="translate(820.2,2049.8) scale(0.97,1)">2</text>
<text class="per" transform="translate(591.2,2088.0) scale(1.12,1)">(046)</text>
<use href="#ballg" x="284.1" y="2080.0"/><text class="bn" transform="translate(284.2,2087.4) scale(0.91,1)">27</text>
<use href="#ballg" x="1126.4" y="2080.0"/><text class="bn" transform="translate(1126.5,2087.4) scale(0.91,1)">27</text>
<use href="#ballr" x="360.7" y="2117.6"/><text class="bn" transform="translate(360.8,2125.0) scale(0.91,1)">35</text>
<use href="#ballr" x="667.0" y="2117.6"/><text class="bn" transform="translate(667.1,2125.0) scale(0.91,1)">35</text>
<text class="per" transform="translate(591.2,2163.2) scale(1.12,1)">(044)</text>
<use href="#ballb" x="284.1" y="2155.2"/><text class="bn" transform="translate(284.2,2162.6) scale(0.91,1)">26</text>
<use href="#ballb" x="1049.8" y="2155.2"/><text class="bn" transform="translate(1049.9,2162.6) scale(0.91,1)">26</text>
<use href="#ballr" x="437.2" y="2192.7"/><text class="bn" transform="translate(437.3,2200.1) scale(0.91,1)">40</text>
<use href="#ballr" x="1049.8" y="2192.7"/><text class="bn" transform="translate(1049.9,2200.1) scale(0.91,1)">40</text>
<text class="per" transform="translate(591.2,2238.3) scale(1.12,1)">(042)</text>
<use href="#ballr" x="360.7" y="2230.3"/><text class="bn" transform="translate(360.8,2237.7) scale(0.91,1)">29</text>
<use href="#ballr" x="743.5" y="2230.3"/><text class="bn" transform="translate(743.6,2237.7) scale(0.91,1)">29</text>
<use href="#ballg" x="54.4" y="2267.9"/><text class="bn" transform="translate(54.5,2275.3) scale(0.97,1)">6</text>
<use href="#ballg" x="1126.4" y="2267.9"/><text class="bn" transform="translate(1126.5,2275.3) scale(0.97,1)">6</text>
<text class="per" transform="translate(591.2,2313.5) scale(1.12,1)">(040)</text>
<use href="#ballb" x="284.1" y="2305.5"/><text class="bn" transform="translate(284.2,2312.9) scale(0.91,1)">25</text>
<use href="#ballb" x="973.2" y="2305.5"/><text class="bn" transform="translate(973.3,2312.9) scale(0.91,1)">25</text>
</svg>
</body></html>
